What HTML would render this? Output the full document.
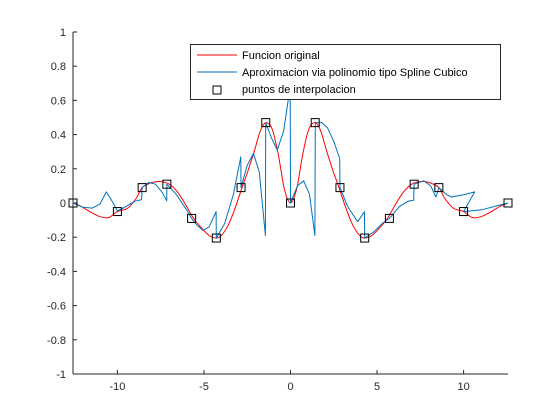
<!DOCTYPE html>
<html><head><meta charset="utf-8"><style>
body{margin:0;background:#fff}
svg{display:block;font-family:"Liberation Sans",sans-serif}
</style></head><body>
<svg id="chart" width="560" height="420"></svg>
<script>
const xTicks=[-10,-5,0,5,10];
const yTicks=[-1,-0.8,-0.6,-0.4,-0.2,0,0.2,0.4,0.6,0.8,1];
const knotX=[-12.566,-10,-8.571,-7.143,-5.714,-4.286,-2.857,-1.429,0,1.429,2.857,4.286,5.714,7.143,8.571,10,12.566];
const knotY=[0,-0.05,0.09,0.11,-0.09,-0.205,0.09,0.47,0,0.47,0.09,-0.205,-0.09,0.11,0.09,-0.05,0];
const redX=[-12.566,-12.1,-11.6,-11,-10.5,-10,-9.4,-8.9,-8.571,-8,-7.5,-7,-6.5,-6,-5.6,-5.2,-4.7,-4.3,-4,-3.6,-3.2,-2.8,-2.45,-2.1,-1.75,-1.43,-1.05,-0.7,-0.35,0,0.35,0.7,1.05,1.43,1.75,2.1,2.45,2.8,3.2,3.6,4,4.3,4.7,5.2,5.6,6,6.5,7,7.5,8,8.571,8.9,9.4,10,10.5,11,11.6,12.1,12.566];
const redY=[0,-0.02,-0.05,-0.08,-0.085,-0.05,-0.03,0.03,0.09,0.12,0.125,0.11,0.06,-0.02,-0.09,-0.14,-0.19,-0.205,-0.19,-0.13,-0.03,0.09,0.19,0.3,0.42,0.47,0.43,0.28,0.08,0,0.08,0.28,0.43,0.47,0.42,0.3,0.19,0.09,-0.03,-0.13,-0.19,-0.205,-0.19,-0.14,-0.09,-0.02,0.06,0.11,0.125,0.12,0.09,0.03,-0.03,-0.05,-0.085,-0.08,-0.05,-0.02,0];
const blueX=[-12.566,-12,-11.45,-11,-10.64,-10.3,-10,-9.5,-9,-8.6,-8.571,-8.2,-7.8,-7.4,-7.15,-7.143,-6.6,-6,-5.714,-5.4,-5.06,-4.7,-4.3,-4.286,-3.8,-3.3,-2.87,-2.857,-2.5,-2.14,-1.8,-1.45,-1.43,-1.1,-0.76,-0.4,-0.02,0,0.4,0.76,1.1,1.41,1.43,1.8,2.14,2.5,2.84,2.857,3.3,3.88,4.27,4.286,4.8,5.3,5.714,6.3,6.8,7.12,7.143,7.7,8.1,8.4,8.571,9,9.3,10.1,10.64,10,10.5,11.05,11.8,12.566];
const blueY=[0,-0.025,-0.03,-0.005,0.065,0.01,-0.047,-0.02,0.01,0.02,0.09,0.12,0.11,0.06,0.013,0.11,0.05,-0.04,-0.09,-0.13,-0.16,-0.14,-0.05,-0.205,-0.12,0.05,0.27,0.09,0.22,0.29,0.18,-0.19,0.47,0.38,0.31,0.42,0.68,0,0.1,0.13,0.05,-0.19,0.47,0.47,0.44,0.36,0.26,0.09,-0.02,-0.11,-0.05,-0.205,-0.17,-0.12,-0.09,-0.02,0.01,0.017,0.11,0.13,0.1,0.035,0.09,0.05,0.035,0.05,0.065,-0.05,-0.045,-0.04,-0.02,0];

const NS="http://www.w3.org/2000/svg";
const svg=document.getElementById('chart');
const L=73,R=508,T=32,B=374,X0=-12.566,X1=12.566;
const sx=v=>L+(v-X0)/(X1-X0)*(R-L);
const sy=v=>B-(v+1)/2*(B-T);
function mk(tag,attrs,parent){const e=document.createElementNS(NS,tag);for(const k in attrs)e.setAttribute(k,attrs[k]);(parent||svg).appendChild(e);return e;}
function smooth(px,py){
  let d='M'+px[0].toFixed(1)+','+py[0].toFixed(1);
  for(let i=0;i<px.length-1;i++){
    const i0=Math.max(0,i-1),i3=Math.min(px.length-1,i+2);
    const c1x=px[i]+(px[i+1]-px[i0])/6,c1y=py[i]+(py[i+1]-py[i0])/6;
    const c2x=px[i+1]-(px[i3]-px[i])/6,c2y=py[i+1]-(py[i3]-py[i])/6;
    d+='C'+c1x.toFixed(1)+','+c1y.toFixed(1)+' '+c2x.toFixed(1)+','+c2y.toFixed(1)+' '+px[i+1].toFixed(1)+','+py[i+1].toFixed(1);
  }
  return d;
}

const ax=mk('g',{});


const xa=mk('line',{x1:L,y1:B,x2:R,y2:B,stroke:'#262626','stroke-width':1},ax);


const ya=mk('line',{x1:L,y1:T,x2:L,y2:B,stroke:'#262626','stroke-width':1},ax);


xTicks.forEach(v=>{
  const x=sx(v);
  mk('line',{x1:x,y1:B,x2:x,y2:B-4,stroke:'#262626'},ax);
  const t=mk('text',{x:x,y:B+16,'text-anchor':'middle','font-size':11,fill:'#262626'},ax);
  t.textContent=v;
  
  
});
yTicks.forEach(v=>{
  const y=sy(v);
  mk('line',{x1:L,y1:y,x2:L+4,y2:y,stroke:'#262626'},ax);
  const t=mk('text',{x:L-7,y:y+4,'text-anchor':'end','font-size':11,fill:'#262626'},ax);
  t.textContent=Math.round(v*10)/10;
  
  
});

const red=mk('path',{d:smooth(redX.map(sx),redY.map(sy)),fill:'none',stroke:'#ff0000','stroke-width':1,'stroke-linejoin':'round'});


const bp=blueX.map((x,i)=>(i?'L':'M')+sx(x).toFixed(1)+','+sy(blueY[i]).toFixed(1)).join('');
const blue=mk('path',{d:bp,fill:'none',stroke:'#0072bd','stroke-width':1,'stroke-linejoin':'round'});


knotX.forEach((x,i)=>{
  const m=mk('rect',{x:sx(x)-4,y:sy(knotY[i])-4,width:8,height:8,fill:'none',stroke:'#000','stroke-width':1});
  
  
});

const lg=mk('g',{});


mk('rect',{x:190.5,y:44.5,width:310,height:55,fill:'#fff',stroke:'#262626'},lg);
mk('line',{x1:197,y1:55,x2:237,y2:55,stroke:'#ff0000'},lg);
mk('line',{x1:197,y1:72,x2:237,y2:72,stroke:'#0072bd'},lg);
mk('rect',{x:213,y:86,width:8,height:8,fill:'none',stroke:'#000'},lg);
[['Funcion original',59],['Aproximacion via polinomio tipo Spline Cubico',76],['puntos de interpolacion',93]].forEach(([s,y])=>{
  const t=mk('text',{x:242,y:y,'font-size':11,fill:'#000'},lg);
  t.textContent=s;
  
  
});
</script>
</body></html>
